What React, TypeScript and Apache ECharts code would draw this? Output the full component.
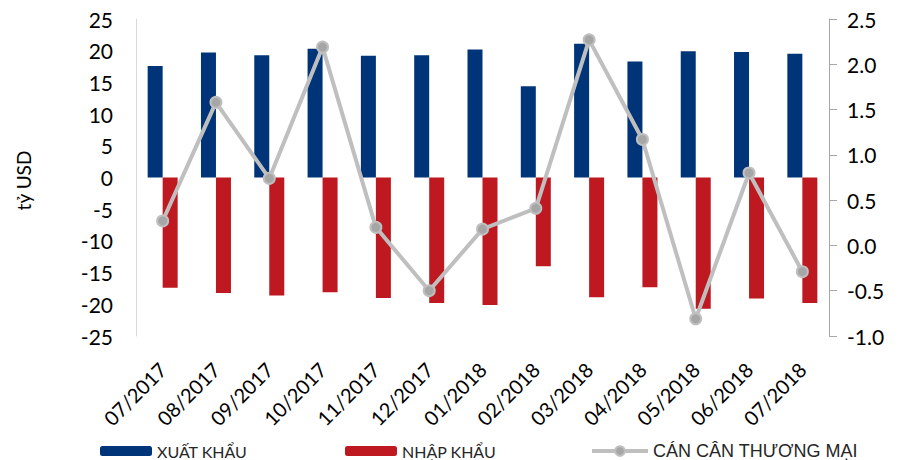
import React, { useEffect, useRef } from "react";
import * as echarts from "echarts";

const categories = [
  "07/2017", "08/2017", "09/2017", "10/2017", "11/2017", "12/2017",
  "01/2018", "02/2018", "03/2018", "04/2018", "05/2018", "06/2018", "07/2018",
];
const exportValues = [17.6, 19.7, 19.3, 20.3, 19.2, 19.3, 20.2, 14.4, 21.1, 18.3, 19.9, 19.8, 19.5];
const importValues = [-17.4, -18.2, -18.6, -18.1, -19.0, -19.8, -20.1, -14.0, -18.9, -17.3, -20.7, -19.1, -19.8];
const balanceValues = [0.27, 1.58, 0.74, 2.19, 0.2, -0.5, 0.18, 0.41, 2.27, 1.17, -0.81, 0.8, -0.29];

const seriesNames = ["XUẤT KHẨU", "NHẬP KHẨU", "CÁN CÂN THƯƠNG MẠI"];
const FONT = "Lato, 'Open Sans', sans-serif";
const FONT_ARIAL = "'Liberation Sans', Arial, sans-serif";

export default function App() {
  const ref = useRef<HTMLDivElement>(null);
  useEffect(() => {
    if (!ref.current) return;
    const chart = echarts.init(ref.current, null, { renderer: "svg" });
    const legendBase = {
      top: 443,
      padding: 0,
      itemHeight: 10,
      itemWidth: 52,
      itemGap: 6,
      textStyle: { fontSize: 16, color: "#262626", fontFamily: FONT },
    };
    chart.setOption({
      animation: false,
      textStyle: { fontFamily: FONT },
      grid: { left: 136, right: 75, top: 19, bottom: 124 },
      legend: [
        { ...legendBase, left: 100, data: [seriesNames[0]] },
        { ...legendBase, left: 345, data: [seriesNames[1]] },
        {
          ...legendBase,
          top: 442,
          left: 590,
          itemWidth: 56,
          itemHeight: 12,
          itemGap: 5,
          lineStyle: { width: 4, color: "#BFBFBF" },
          textStyle: { fontSize: 18, color: "#262626", fontFamily: FONT_ARIAL },
          data: [seriesNames[2]],
        },
      ],
      xAxis: {
        type: "category",
        data: categories,
        axisLine: { show: false, onZero: false },
        axisTick: { show: false },
        axisLabel: {
          rotate: 45,
          fontSize: 20,
          color: "#000",
          margin: 30,
          fontFamily: FONT,
          interval: 0,
        },
      },
      yAxis: [
        {
          type: "value",
          min: -25,
          max: 25,
          interval: 5,
          name: "tỷ USD",
          nameLocation: "middle",
          nameRotate: 90,
          nameGap: 103,
          nameTextStyle: { fontSize: 19, color: "#000", fontFamily: FONT, padding: [0, 6, 0, 0] },
          splitLine: { show: false },
          axisLine: { show: true, lineStyle: { color: "#D9D9D9", width: 1 } },
          axisTick: { show: false },
          axisLabel: { fontSize: 21, color: "#000", margin: 23, fontFamily: FONT },
        },
        {
          type: "value",
          min: -1,
          max: 2.5,
          interval: 0.5,
          position: "right",
          splitLine: { show: false },
          axisLine: { show: true, lineStyle: { color: "#A6A6A6", width: 1 } },
          axisTick: { show: true, length: 8, lineStyle: { color: "#A6A6A6" } },
          axisLabel: {
            fontSize: 21,
            color: "#000",
            margin: 18,
            fontFamily: FONT,
            formatter: (v: number) => v.toFixed(1),
          },
        },
      ],
      series: [
        {
          name: seriesNames[0],
          type: "bar",
          data: exportValues,
          barWidth: 15,
          barGap: "0%",
          itemStyle: { color: "#003478" },
        },
        {
          name: seriesNames[1],
          type: "bar",
          data: importValues,
          barWidth: 15,
          barGap: "0%",
          itemStyle: { color: "#BE1820" },
        },
        {
          name: seriesNames[2],
          type: "line",
          yAxisIndex: 1,
          data: balanceValues,
          symbol: "circle",
          symbolSize: 11,
          lineStyle: { color: "#BFBFBF", width: 4 },
          itemStyle: { color: "#A6A6A6", borderColor: "#BFBFBF", borderWidth: 2 },
          z: 5,
        },
      ],
    });
    return () => chart.dispose();
  }, []);
  return <div ref={ref} style={{ width: 904, height: 460, position: "absolute", left: 0, top: 0 }} />;
}
